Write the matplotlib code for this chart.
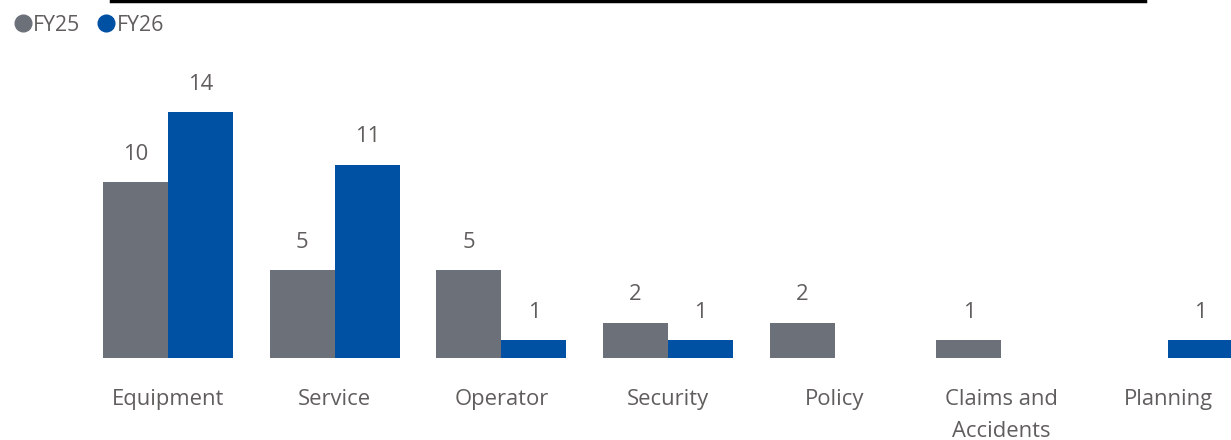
import matplotlib.pyplot as plt
import numpy as np

categories = ['Equipment', 'Service', 'Operator', 'Security', 'Policy',
              'Claims and\nAccidents', 'Planning']
fy25 = [10, 5, 5, 2, 2, 1, 0]
fy26 = [14, 11, 1, 1, 0, 0, 1]

grey = '#6B7079'
blue = '#0050A4'
txt = '#605E5C'

plt.rcParams['font.family'] = ['Open Sans', 'DejaVu Sans']

W, H = 1231, 440
fig = plt.figure(figsize=(W / 100, H / 100), dpi=100)

# plot area in pixels: baseline at y=358 from top, one category = 166.7 px
step = 166.7
x0 = 168
base = 82
ax = fig.add_axes([0, base / H, 1, (H - base) / H])
ax.set_xlim(-x0 / step, (W - x0) / step)
ax.set_ylim(0, (H - base) / 17.57)
ax.axis('off')

x = np.arange(len(categories))
bw = 0.39
b1 = ax.bar(x - bw / 2, fy25, bw, color=grey, label='FY25')
b2 = ax.bar(x + bw / 2, fy26, bw, color=blue, label='FY26')

fs = 15.8
for bars, vals in ((b1, fy25), (b2, fy26)):
    for b, v in zip(bars, vals):
        if v == 0:
            continue
        ax.annotate(str(v), (b.get_x() + b.get_width() / 2, v),
                    xytext=(0, 28), textcoords='offset pixels',
                    ha='center', va='center', fontsize=fs, color=txt)

# category labels, one text per line (line pitch 32 px)
for i, c in enumerate(categories):
    for k, line in enumerate(c.split('\n')):
        ax.annotate(line, (i, 0), xytext=(0, -41 - 32 * k),
                    textcoords='offset pixels', ha='center', va='center',
                    fontsize=fs, color=txt, annotation_clip=False)

# legend
fig.legend(handles=[plt.Line2D([], [], marker='o', ls='', color=grey, markersize=12),
                    plt.Line2D([], [], marker='o', ls='', color=blue, markersize=12)],
           labels=['FY25', 'FY26'], loc='upper left', bbox_to_anchor=(-0.004, 1.005),
           ncol=2, frameon=False, handletextpad=0.0, columnspacing=0.7,
           handlelength=1.0, fontsize=fs - 0.5, labelcolor=txt, borderaxespad=0.4)

# black line at the top edge
fig.add_artist(plt.Line2D([111 / W, 1145 / W], [1 - 1.5 / H, 1 - 1.5 / H],
                          color='black', lw=2.5, transform=fig.transFigure))

fig.savefig('out.png', dpi=100)
